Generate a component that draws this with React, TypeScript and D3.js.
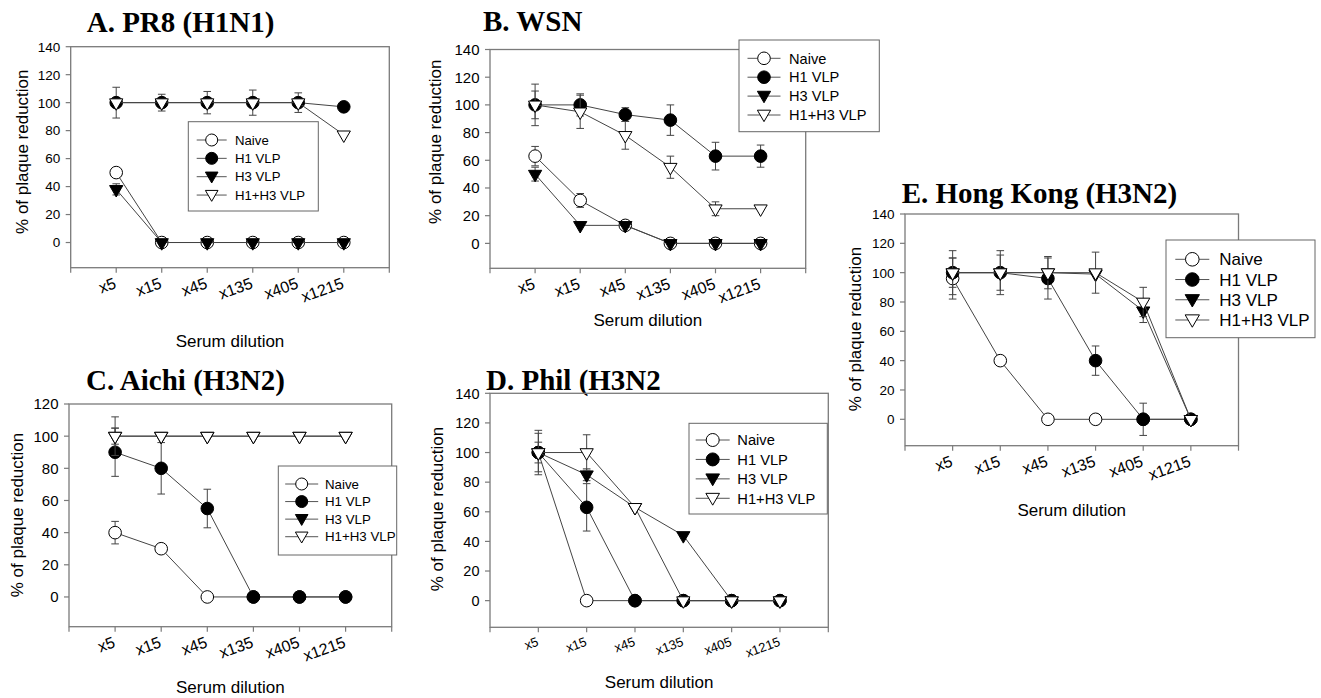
import React from "react";
import * as d3 from "d3";

// ---------- data ----------
const dilutions = ["x5", "x15", "x45", "x135", "x405", "x1215"];
const groups = ["Naive", "H1 VLP", "H3 VLP", "H1+H3 VLP"];

// A. PR8 (H1N1)
const aNaive = [50, 0, 0, 0, 0, 0];
const aH1 = [100, 100, 100, 100, 100, 97];
const aH3 = [38, 0, 0, 0, 0, 0];
const aH13 = [100, 100, 100, 100, 100, 77];
const aErrNaive = [0, 0, 0, 0, 0, 0];
const aErrH1 = [11, 6, 8, 9, 7, 0];
const aErrH3 = [4, 0, 0, 0, 0, 0];
const aErrH13 = [0, 0, 0, 0, 0, 0];

// B. WSN
const bNaive = [63, 31, 13, 0, 0, 0];
const bH1 = [100, 100, 93, 89, 63, 63];
const bH3 = [50, 13, 13, 0, 0, 0];
const bH13 = [100, 95, 78, 55, 25, 25];
const bErrNaive = [7, 5, 0, 0, 0, 0];
const bErrH1 = [10, 8, 5, 11, 10, 8];
const bErrH3 = [5, 0, 0, 0, 0, 0];
const bErrH13 = [15, 12, 10, 8, 5, 0];

// C. Aichi (H3N2)
const cNaive = [40, 30, 0, 0, 0, 0];
const cH1 = [90, 80, 55, 0, 0, 0];
const cH3 = [100, 100, 100, 100, 100, 100];
const cH13 = [100, 100, 100, 100, 100, 100];
const cErrNaive = [7, 0, 0, 0, 0, 0];
const cErrH1 = [15, 16, 12, 0, 0, 0];
const cErrH3 = [5, 0, 0, 0, 0, 0];
const cErrH13 = [12, 0, 0, 0, 0, 0];

// D. Phil (H3N2
const dNaive = [100, 0, 0, 0, 0, 0];
const dH1 = [100, 63, 0, 0, 0, 0];
const dH3 = [100, 85, 63, 44, 0, 0];
const dH13 = [100, 100, 63, 0, 0, 0];
const dErrNaive = [7, 0, 0, 0, 0, 0];
const dErrH1 = [13, 16, 0, 0, 0, 0];
const dErrH3 = [15, 4, 0, 0, 0, 0];
const dErrH13 = [0, 12, 0, 0, 0, 0];

// E. Hong Kong (H3N2)
const eNaive = [96, 40, 0, 0, 0, 0];
const eH1 = [100, 100, 96, 40, 0, 0];
const eH3 = [100, 100, 100, 99, 74, 0];
const eH13 = [100, 100, 100, 100, 80, 0];
const eErrNaive = [14, 0, 0, 0, 0, 0];
const eErrH1 = [10, 15, 14, 10, 11, 0];
const eErrH3 = [15, 12, 11, 0, 8, 0];
const eErrH13 = [0, 0, 0, 14, 10, 0];

const ticks140 = [0, 20, 40, 60, 80, 100, 120, 140];
const ticks120 = [0, 20, 40, 60, 80, 100, 120];

// ---------- layout ----------
const SANS = "'Liberation Sans', Arial, sans-serif";
const SERIF = "'Liberation Serif', 'Times New Roman', serif";
const markerTypes = ["circleOpen", "circleFilled", "triFilled", "triOpen"];

type Legend = { x: number; y: number; w: number; h: number; row0: number; step: number; symX: number; half: number; textX: number; fs: number; ms: number };
type Panel = {
  title: string; titleX: number; titleY: number;
  left: number; right: number; top: number; bottom: number;
  yDomain: [number, number]; yTicks: number[];
  series: number[][]; errs: number[][];
  yTickFs: number; xTickFs: number;
  yLabelX: number; yLabelY: number; xLabelY: number;
  legend: Legend;
};

const panels: Panel[] = [
  {
    title: "A. PR8 (H1N1)", titleX: 86.7, titleY: 31.7,
    left: 70.7, right: 389.3, top: 46.7, bottom: 267.7,
    yDomain: [-18, 140], yTicks: ticks140,
    series: [aNaive, aH1, aH3, aH13], errs: [aErrNaive, aErrH1, aErrH3, aErrH13],
    yTickFs: 13.5, xTickFs: 16, yLabelX: 22, yLabelY: 151.7, xLabelY: 346.7,
    legend: { x: 188.3, y: 121.7, w: 130, h: 89.3, row0: 140, step: 18.35, symX: 211.7, half: 15, textX: 235, fs: 13.2, ms: 6 },
  },
  {
    title: "B. WSN", titleX: 483, titleY: 31,
    left: 490, right: 805.7, top: 49.5, bottom: 268.3,
    yDomain: [-18, 140], yTicks: ticks140,
    series: [bNaive, bH1, bH3, bH13], errs: [bErrNaive, bErrH1, bErrH3, bErrH13],
    yTickFs: 15, xTickFs: 16, yLabelX: 435, yLabelY: 141.7, xLabelY: 326,
    legend: { x: 739, y: 40, w: 140.3, h: 91.7, row0: 58.3, step: 18.9, symX: 764, half: 16.5, textX: 789, fs: 14.6, ms: 6.3 },
  },
  {
    title: "C. Aichi (H3N2)", titleX: 86, titleY: 390,
    left: 69, right: 391.7, top: 404, bottom: 626.7,
    yDomain: [-18.5, 120], yTicks: ticks120,
    series: [cNaive, cH1, cH3, cH13], errs: [cErrNaive, cErrH1, cErrH3, cErrH13],
    yTickFs: 15, xTickFs: 16, yLabelX: 17.5, yLabelY: 515, xLabelY: 693,
    legend: { x: 278.3, y: 466, w: 118.4, h: 89, row0: 484, step: 17.57, symX: 301.7, half: 16.5, textX: 325, fs: 13.3, ms: 6 },
  },
  {
    title: "D. Phil (H3N2", titleX: 486, titleY: 390,
    left: 490, right: 828.3, top: 393.3, bottom: 627.3,
    yDomain: [-18, 140], yTicks: ticks140,
    series: [dNaive, dH1, dH3, dH13], errs: [dErrNaive, dErrH1, dErrH3, dErrH13],
    yTickFs: 14.5, xTickFs: 13, yLabelX: 437.5, yLabelY: 509, xLabelY: 688,
    legend: { x: 689, y: 423.3, w: 138.3, h: 90.7, row0: 440, step: 19.43, symX: 712.7, half: 17, textX: 737.3, fs: 14.7, ms: 6.5 },
  },
  {
    title: "E. Hong Kong (H3N2)", titleX: 901.7, titleY: 203.3,
    left: 905, right: 1238.5, top: 214, bottom: 445.7,
    yDomain: [-18, 140], yTicks: ticks140,
    series: [eNaive, eH1, eH3, eH13], errs: [eErrNaive, eErrH1, eErrH3, eErrH13],
    yTickFs: 13.5, xTickFs: 16, yLabelX: 855, yLabelY: 329, xLabelY: 515.5,
    legend: { x: 1166, y: 240, w: 149, h: 97.7, row0: 259.3, step: 20.23, symX: 1192.3, half: 17, textX: 1219.3, fs: 17, ms: 6.8 },
  },
];

function Marker({ type, cx, cy, r }: { type: string; cx: number; cy: number; r: number }) {
  if (type === "circleOpen" || type === "circleFilled") {
    return <circle cx={cx} cy={cy} r={r} fill={type === "circleFilled" ? "#000" : "#fff"} stroke="#000" strokeWidth={1} />;
  }
  const s = r * 2.1;
  const h = s * 0.866;
  const pts = [
    [cx - s / 2, cy - h / 3],
    [cx + s / 2, cy - h / 3],
    [cx, cy + (2 * h) / 3],
  ];
  return (
    <polygon
      points={pts.map((p) => p.join(",")).join(" ")}
      fill={type === "triFilled" ? "#000" : "#fff"}
      stroke="#000"
      strokeWidth={1}
      strokeLinejoin="miter"
    />
  );
}

function PanelView({ p }: { p: Panel }) {
  const x = d3.scaleLinear().domain([-1, 6]).range([p.left, p.right]);
  const y = d3.scaleLinear().domain(p.yDomain).range([p.bottom, p.top]);
  const line = d3
    .line<number>()
    .x((_, i) => x(i))
    .y((v) => y(v));
  const frame = "#7a7a7a";
  const lg = p.legend;
  const xTickIdx = d3.range(-1, 7);
  return (
    <g>
      <text x={p.titleX} y={p.titleY} fontFamily={SERIF} fontWeight="bold" fontSize={29} fill="#000">
        {p.title}
      </text>
      {/* frame */}
      <rect x={p.left} y={p.top} width={p.right - p.left} height={p.bottom - p.top} fill="none" stroke={frame} strokeWidth={1.3} />
      {/* y ticks */}
      {p.yTicks.map((t) => (
        <g key={"y" + t}>
          <line x1={p.left - 5} x2={p.left} y1={y(t)} y2={y(t)} stroke={frame} strokeWidth={1.2} />
          <text x={p.left - 10.5} y={y(t)} dy="0.36em" textAnchor="end" fontFamily={SANS} fontSize={p.yTickFs} fill="#000">
            {t}
          </text>
        </g>
      ))}
      {/* x ticks */}
      {xTickIdx.map((i) => (
        <line key={"xt" + i} x1={x(i)} x2={x(i)} y1={p.bottom} y2={p.bottom + 5} stroke={frame} strokeWidth={1.2} />
      ))}
      {dilutions.map((d, i) => (
        <text
          key={"xl" + d}
          transform={`translate(${x(i) + 1},${p.bottom + (p.xTickFs > 14 ? 20 : 18)}) rotate(-20)`}
          textAnchor="end"
          fontFamily={SANS}
          fontSize={p.xTickFs}
          fill="#000"
        >
          {d}
        </text>
      ))}
      <text x={(p.left + p.right) / 2} y={p.xLabelY} textAnchor="middle" fontFamily={SANS} fontSize={17} fill="#000">
        Serum dilution
      </text>
      <text
        transform={`translate(${p.yLabelX},${p.yLabelY}) rotate(-90)`}
        textAnchor="middle"
        dy="0.35em"
        fontFamily={SANS}
        fontSize={17}
        fill="#000"
      >
        % of plaque reduction
      </text>
      {/* series */}
      {p.series.map((vals, si) => (
        <g key={"s" + si}>
          <path d={line(vals) || ""} fill="none" stroke="#444" strokeWidth={1} />
          {vals.map((v, i) =>
            p.errs[si][i] > 0 ? (
              <g key={"e" + i} stroke="#444" strokeWidth={1}>
                <line x1={x(i)} x2={x(i)} y1={y(v - p.errs[si][i])} y2={y(v + p.errs[si][i])} />
                <line x1={x(i) - 3.8} x2={x(i) + 3.8} y1={y(v + p.errs[si][i])} y2={y(v + p.errs[si][i])} />
                <line x1={x(i) - 3.8} x2={x(i) + 3.8} y1={y(v - p.errs[si][i])} y2={y(v - p.errs[si][i])} />
              </g>
            ) : null
          )}
          {vals.map((v, i) => (
            <Marker key={"m" + i} type={markerTypes[si]} cx={x(i)} cy={y(v)} r={6.3} />
          ))}
        </g>
      ))}
      {/* legend */}
      <rect x={lg.x} y={lg.y} width={lg.w} height={lg.h} fill="#fff" stroke="#666" strokeWidth={1} />
      {groups.map((g, gi) => {
        const ry = lg.row0 + gi * lg.step;
        return (
          <g key={"lg" + gi}>
            <line x1={lg.symX - lg.half} x2={lg.symX + lg.half} y1={ry} y2={ry} stroke="#555" strokeWidth={1} />
            <Marker type={markerTypes[gi]} cx={lg.symX} cy={gi >= 2 ? ry - 1 : ry} r={lg.ms} />
            <text x={lg.textX} y={ry} dy="0.36em" fontFamily={SANS} fontSize={lg.fs} fill="#000">
              {g}
            </text>
          </g>
        );
      })}
    </g>
  );
}

export default function App() {
  return (
    <svg
      width={1321}
      height={698}
      viewBox="0 0 1321 698"
      style={{ position: "absolute", left: 0, top: 0, background: "#fff" }}
    >
      <rect width={1321} height={698} fill="#fff" />
      {panels.map((p) => (
        <PanelView key={p.title} p={p} />
      ))}
    </svg>
  );
}
